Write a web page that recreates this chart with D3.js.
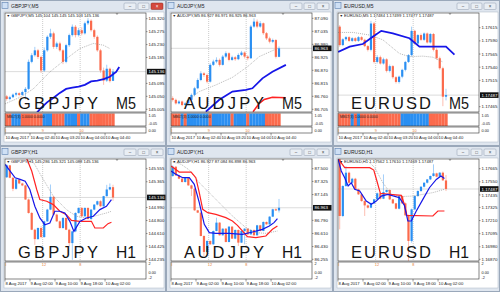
<!DOCTYPE html>
<html>
<head>
<meta charset="utf-8">
<script src="https://cdn.jsdelivr.net/npm/d3@7"></script>
<style>
body { margin: 0; background: #fff; }
svg { display: block; }
text { font-family: "Liberation Sans", Arial, sans-serif; }
</style>
</head>
<body>
<svg id="chart" width="500" height="292"></svg>
<script>
// ---- data: candles are [open, high, low, close] ----
var gbpjpyM5 = [
  [145.050,145.055,145.035,145.041],[145.041,145.052,145.036,145.047],[145.047,145.060,145.044,145.056],
  [145.056,145.066,145.050,145.061],[145.061,145.064,145.050,145.055],[145.055,145.070,145.052,145.065],
  [145.065,145.082,145.040,145.076],[145.076,145.178,145.072,145.170],[145.170,145.200,145.165,145.193],
  [145.193,145.222,145.188,145.210],[145.210,145.215,145.180,145.187],[145.187,145.192,145.132,145.140],
  [145.140,145.220,145.135,145.210],[145.210,145.262,145.205,145.257],[145.257,145.285,145.250,145.269],
  [145.269,145.275,145.215,145.222],[145.222,145.240,145.215,145.234],[145.234,145.240,145.205,145.210],
  [145.210,145.214,145.162,145.170],[145.170,145.233,145.165,145.228],[145.228,145.268,145.222,145.263],
  [145.263,145.300,145.258,145.292],[145.292,145.298,145.255,145.263],[145.263,145.288,145.258,145.280],
  [145.280,145.290,145.262,145.269],[145.269,145.310,145.265,145.304],[145.304,145.322,145.298,145.313],
  [145.313,145.318,145.275,145.280],[145.280,145.285,145.250,145.257],[145.257,145.262,145.205,145.210],
  [145.210,145.215,145.132,145.140],[145.140,145.150,145.090,145.105],[145.105,145.160,145.100,145.146],
  [145.146,145.150,145.098,145.103],[145.104,145.145,145.103,145.136]
];
var audjpyM5 = [
  [86.752,86.760,86.738,86.745],[86.745,86.750,86.725,86.730],[86.730,86.744,86.726,86.738],
  [86.738,86.742,86.718,86.723],[86.723,86.736,86.720,86.730],[86.730,86.750,86.727,86.745],
  [86.745,86.772,86.740,86.766],[86.766,86.800,86.760,86.794],[86.794,86.836,86.790,86.829],
  [86.829,86.866,86.824,86.857],[86.857,86.862,86.842,86.850],[86.850,86.856,86.815,86.822],
  [86.822,86.900,86.818,86.893],[86.893,86.915,86.888,86.907],[86.907,86.925,86.900,86.914],
  [86.914,86.920,86.886,86.893],[86.893,86.935,86.890,86.928],[86.928,86.950,86.922,86.942],
  [86.942,86.946,86.908,86.914],[86.914,86.932,86.910,86.925],[86.925,86.930,86.910,86.917],
  [86.917,86.942,86.913,86.935],[86.935,86.952,86.930,86.945],[86.945,86.950,86.920,86.928],
  [86.928,86.934,86.912,86.921],[86.921,87.062,86.918,87.055],[87.055,87.090,87.050,87.076],
  [87.076,87.085,87.048,87.055],[87.055,87.078,87.050,87.069],[87.069,87.072,87.020,87.027],
  [87.027,87.032,86.998,87.005],[87.005,87.012,86.984,86.991],[86.991,87.004,86.985,86.998],
  [86.998,87.002,86.920,86.927],[86.927,86.971,86.925,86.963]
];
var eurusdM5 = [
  [1.17617,1.17620,1.17579,1.17582],[1.17582,1.17595,1.17580,1.17593],[1.17593,1.17599,1.17590,1.17597],
  [1.17597,1.17599,1.17588,1.17590],[1.17590,1.17597,1.17588,1.17595],[1.17595,1.17597,1.17588,1.17590],
  [1.17590,1.17599,1.17588,1.17597],[1.17597,1.17599,1.17590,1.17592],[1.17592,1.17594,1.17578,1.17580],
  [1.17580,1.17582,1.17570,1.17573],[1.17573,1.17628,1.17570,1.17623],[1.17623,1.17626,1.17547,1.17550],
  [1.17550,1.17563,1.17547,1.17559],[1.17559,1.17562,1.17545,1.17547],[1.17547,1.17558,1.17545,1.17555],
  [1.17555,1.17557,1.17530,1.17533],[1.17533,1.17545,1.17530,1.17542],[1.17542,1.17544,1.17518,1.17521],
  [1.17521,1.17523,1.17509,1.17512],[1.17512,1.17524,1.17509,1.17522],[1.17522,1.17537,1.17519,1.17535],
  [1.17535,1.17552,1.17532,1.17550],[1.17550,1.17565,1.17548,1.17563],[1.17563,1.17617,1.17560,1.17609],
  [1.17609,1.17611,1.17582,1.17585],[1.17585,1.17603,1.17583,1.17601],[1.17601,1.17604,1.17590,1.17592],
  [1.17592,1.17606,1.17590,1.17604],[1.17604,1.17606,1.17585,1.17587],[1.17587,1.17605,1.17585,1.17603],
  [1.17603,1.17605,1.17570,1.17573],[1.17573,1.17576,1.17554,1.17557],[1.17557,1.17560,1.17535,1.17538],
  [1.17538,1.17541,1.17466,1.17484],[1.17484,1.17499,1.17477,1.17487]
];
var gbpjpyH1 = [
  [145.430,145.620,145.420,145.604],[145.604,145.610,145.415,145.423],[145.423,145.430,145.228,145.262],
  [145.262,145.410,145.250,145.399],[145.399,145.405,145.330,145.340],[145.340,145.350,145.300,145.311],
  [145.311,145.320,145.100,145.106],[145.106,145.120,144.900,144.910],[144.910,144.925,144.660,144.666],
  [144.666,144.680,144.446,144.529],[144.529,144.700,144.520,144.691],[144.691,144.720,144.540,144.559],
  [144.559,144.800,144.550,144.788],[144.788,144.970,144.780,144.959],[144.959,145.325,144.950,145.145],
  [145.145,145.160,144.875,144.886],[144.886,144.900,144.780,144.788],[144.788,144.800,144.680,144.691],
  [144.691,144.850,144.680,144.837],[144.837,144.845,144.660,144.666],[144.666,144.680,144.420,144.471],
  [144.471,144.650,144.227,144.642],[144.642,144.920,144.630,144.910],[144.910,144.990,144.900,144.984],
  [144.984,144.995,144.850,144.862],[144.862,144.990,144.850,144.984],[144.984,144.990,144.815,144.822],
  [144.822,144.965,144.810,144.959],[144.959,145.040,144.950,145.032],[145.032,145.090,145.020,145.081],
  [145.081,145.095,145.000,145.008],[145.008,145.160,145.000,145.155],[145.155,145.320,145.150,145.252],
  [145.252,145.340,145.240,145.286],[145.286,145.321,145.088,145.136]
];
var audjpyH1 = [
  [87.399,87.546,87.390,87.527],[87.527,87.535,87.400,87.408],[87.408,87.415,87.355,87.363],
  [87.363,87.372,87.310,87.317],[87.317,87.380,87.310,87.372],[87.372,87.380,87.265,87.271],
  [87.271,87.280,87.125,87.225],[87.225,87.232,86.920,86.928],[86.928,86.935,86.890,86.896],
  [86.896,86.905,86.570,86.575],[86.575,86.585,86.301,86.356],[86.356,86.515,86.350,86.507],
  [86.507,86.515,86.455,86.461],[86.461,86.650,86.455,86.644],[86.644,86.827,86.640,86.759],
  [86.759,86.765,86.580,86.585],[86.585,86.680,86.580,86.676],[86.676,86.685,86.488,86.493],
  [86.493,86.710,86.488,86.704],[86.704,86.712,86.535,86.539],[86.539,86.665,86.532,86.658],
  [86.658,86.665,86.438,86.484],[86.484,86.650,86.478,86.644],[86.644,86.682,86.461,86.676],
  [86.676,86.682,86.590,86.598],[86.598,86.665,86.592,86.658],[86.658,86.665,86.580,86.585],
  [86.585,86.728,86.580,86.722],[86.722,86.730,86.638,86.644],[86.644,86.775,86.640,86.768],
  [86.768,86.775,86.730,86.736],[86.736,86.848,86.730,86.841],[86.841,86.950,86.835,86.942],
  [86.942,86.955,86.920,86.927],[86.927,87.084,86.898,86.963]
];
var eurusdH1 = [
  [1.17747,1.17750,1.17133,1.17250],[1.17250,1.17520,1.17240,1.17513],[1.17513,1.17688,1.17505,1.17630],
  [1.17630,1.17640,1.17535,1.17542],[1.17542,1.17585,1.17535,1.17577],[1.17577,1.17585,1.17478,1.17484],
  [1.17484,1.17490,1.17435,1.17440],[1.17440,1.17448,1.17375,1.17381],[1.17381,1.17390,1.17250,1.17343],
  [1.17343,1.17350,1.17315,1.17323],[1.17323,1.17368,1.17318,1.17361],[1.17361,1.17400,1.17355,1.17396],
  [1.17396,1.17455,1.17390,1.17449],[1.17449,1.17455,1.17395,1.17402],[1.17402,1.17615,1.17398,1.17460],
  [1.17460,1.17482,1.17455,1.17478],[1.17478,1.17484,1.17390,1.17396],[1.17396,1.17400,1.17355,1.17361],
  [1.17361,1.17365,1.17308,1.17314],[1.17314,1.17430,1.17308,1.17425],[1.17425,1.17430,1.17355,1.17361],
  [1.17361,1.17368,1.17250,1.17256],[1.17256,1.17262,1.16841,1.17031],[1.17031,1.17315,1.17016,1.17308],
  [1.17308,1.17430,1.17300,1.17425],[1.17425,1.17475,1.17418,1.17469],[1.17469,1.17510,1.17462,1.17507],
  [1.17507,1.17545,1.17500,1.17542],[1.17542,1.17575,1.17535,1.17571],[1.17571,1.17605,1.17565,1.17601],
  [1.17601,1.17703,1.17595,1.17624],[1.17624,1.17630,1.17590,1.17595],[1.17595,1.17635,1.17590,1.17630],
  [1.17630,1.17640,1.17558,1.17563],[1.17562,1.17610,1.17469,1.17487]
];

// moving averages, [bar index, value]
var gbpjpyM5Blue = [[9,144.985],[11,145.010],[13,145.030],[15,145.045],[17,145.062],[19,145.076],[21,145.080],[23,145.084],[25,145.090],[27,145.102],[29,145.105],[31,145.110],[33,145.118],[35,145.135],[36,145.152]];
var gbpjpyM5Gray = [[-0.5,145.024],[4.3,145.047],[8.5,145.076],[13.8,145.135],[19.1,145.181],[23.4,145.216],[27.7,145.234],[30.9,145.228],[33,145.216]];
var audjpyM5Blue = [[10.6,86.695],[14.9,86.745],[19.1,86.780],[23.4,86.787],[25.5,86.794],[28.7,86.836],[31.9,86.864],[36.2,86.893]];
var audjpyM5Red = [[25.7,86.695],[27.7,86.730],[29.3,86.747],[31.9,86.756],[36.2,86.754]];
var audjpyM5Gray = [[4.3,86.738],[8.5,86.780],[13.8,86.808],[19.1,86.840],[24,86.886],[27.7,86.928],[31.9,86.953],[33.5,86.963]];
var eurusdM5Blue = [[-0.5,1.17569],[3.2,1.17579],[7.4,1.17584],[10.6,1.17598],[13.3,1.17609],[17,1.17604],[22.3,1.17595],[25.5,1.17579],[29.8,1.17579],[34,1.17579],[36.7,1.17564]];
var eurusdM5Gray = [[-0.5,1.17606],[4.3,1.17606],[9.6,1.17601],[13.8,1.17592],[19.1,1.17566],[22.3,1.17560],[26.6,1.17561],[29.8,1.17559],[33,1.17550]];
var gbpjpyH1Blue = [[-0.5,145.618],[1.1,145.521],[2.7,145.423],[4.3,145.399],[5.9,145.374],[7.4,145.252],[9,145.008],[10.6,144.837],[12.2,144.739],[13.8,144.764],[15.4,144.935],[17,144.935],[18.6,144.910],[20.2,144.788],[21.5,144.642],[23.4,144.788],[25.5,144.837],[27.7,144.862],[29.8,144.959],[31.9,145.008],[33.5,145.106]];
var gbpjpyH1Red = [[6.4,145.702],[8,145.521],[9.6,145.252],[10.6,145.106],[12.8,145.081],[14.9,145.032],[17,144.935],[19.1,144.886],[20.7,144.803],[23.4,144.788],[27.1,144.788],[28.2,144.691],[30.9,144.691],[32.4,144.754],[33.5,144.774]];
var gbpjpyH1Gray = [[8,145.692],[11.7,145.399],[14.9,145.155],[19.1,144.959],[22.3,144.862],[25.5,144.837],[28.7,144.871],[31.9,144.910],[33.5,144.935]];
var audjpyH1Blue = [[-0.5,87.468],[1.1,87.422],[3.2,87.376],[5.3,87.376],[6.9,87.285],[8.5,87.033],[10.1,86.736],[11.7,86.621],[13.8,86.612],[18.1,86.612],[22.3,86.598],[25.5,86.630],[28.7,86.667],[30.9,86.713],[32.4,86.759],[33.5,86.813]];
var audjpyH1Red = [[-0.5,87.537],[2.1,87.454],[5.9,87.454],[7.4,87.376],[8.5,87.170],[9.6,86.942],[11.2,86.896],[13.8,86.873],[17,86.827],[19.1,86.781],[20.7,86.722],[22.6,86.630],[23.9,86.566],[26.6,86.553],[29.8,86.575],[31.9,86.667],[33.5,86.713]];
var audjpyH1Gray = [[0,87.592],[2.7,87.560],[5.3,87.482],[8.5,87.308],[13.8,87.079],[19.1,86.850],[23.4,86.690],[26.6,86.621],[29.8,86.612],[33.5,86.644]];
var eurusdH1Blue = [[-0.5,1.17747],[0.5,1.17645],[1.6,1.17586],[2.7,1.17513],[3.7,1.17542],[4.8,1.17484],[6.4,1.17469],[8.5,1.17381],[10.1,1.17352],[11.7,1.17381],[13.3,1.17425],[15.4,1.17440],[19.1,1.17411],[20.7,1.17343],[21.8,1.17206],[22.9,1.17206],[24.5,1.17294],[26.6,1.17396],[28.7,1.17498],[30.9,1.17571],[32.4,1.17601],[33.5,1.17580]];
var eurusdH1Red = [[-0.5,1.17753],[1.6,1.17674],[9.6,1.17674],[10.9,1.17653],[11.9,1.17557],[13,1.17449],[16,1.17440],[19.7,1.17431],[20.7,1.17352],[21.5,1.17256],[29.8,1.17250],[31.4,1.17294],[33.5,1.17294]];
var eurusdH1Gray = [[8.5,1.17747],[11.2,1.17674],[13.8,1.17542],[16.5,1.17440],[19.1,1.17420],[23.4,1.17425],[26.6,1.17440],[29.8,1.17455],[33.5,1.17484]];

// sub-window trend blocks (1 = blue, -1 = red)
var gbpjpyTrend = [-1,-1,1,1,1,-1,-1,-1,-1,-1,-1,-1,1,1,1,-1,-1,-1,-1,1,1,1,1,-1,1,1,1,-1,-1,-1,-1,-1,-1,-1,-1];
var audjpyTrend = [-1,-1,-1,1,-1,1,1,1,1,1,1,1,-1,1,1,1,1,1,1,-1,1,1,1,1,-1,1,1,1,1,1,-1,-1,-1,-1,-1];
var eurusdTrend = [-1,-1,-1,-1,1,-1,1,-1,-1,-1,-1,-1,-1,-1,-1,-1,-1,-1,-1,-1,1,1,1,1,1,1,1,1,1,-1,-1,-1,-1,-1,-1];

// price axis labels
var gbpjpyM5Ticks = [145.320,145.275,145.230,145.185,145.095,145.050,145.005];
var audjpyM5Ticks = [87.090,87.035,86.980,86.925,86.870,86.815,86.760,86.705];
var eurusdM5Ticks = [1.17615,1.17590,1.17565,1.17540,1.17515,1.17465];
var gbpjpyH1Ticks = [145.555,145.365,144.990,144.800,144.610,144.425,144.235];
var audjpyH1Ticks = [87.500,87.325,87.145,86.790,86.610,86.430,86.255];
var eurusdH1Ticks = [1.17665,1.17550,1.17435,1.17325,1.17210,1.17095,1.16980,1.16870];

// time axis
var m5Times = ["10 Aug 2017","10 Aug 02:40","10 Aug 03:20","10 Aug 04:00","10 Aug 04:40"];
var h1Times = ["8 Aug 2017","9 Aug 02:00","9 Aug 10:00","9 Aug 18:00","10 Aug 02:00"];
var timeBars = [0, 8, 16, 24, 32];
var sepBars = [11.5, 23.5];
var m5SepLabels = ["9", "10"];
var h1SepLabels = ["12", "8"];

var panels = [
  {sym: "GBPJPY", tf: "M5", x0: 0,   y0: 0,   w: 166, candles: gbpjpyM5, ticks: gbpjpyM5Ticks, tickPx: [109.3, 18.7], digits: 3, blue: gbpjpyM5Blue, red: null, gray: gbpjpyM5Gray, trend: gbpjpyTrend, active: true},
  {sym: "AUDJPY", tf: "M5", x0: 166, y0: 0,   w: 167, candles: audjpyM5, ticks: audjpyM5Ticks, tickPx: [109.3, 18.3], digits: 3, blue: audjpyM5Blue, red: audjpyM5Red, gray: audjpyM5Gray, trend: audjpyTrend},
  {sym: "EURUSD", tf: "M5", x0: 333, y0: 0,   w: 167, candles: eurusdM5, ticks: eurusdM5Ticks, tickPx: [106.7, 27.7], digits: 5, blue: eurusdM5Blue, red: null, gray: eurusdM5Gray, trend: eurusdTrend},
  {sym: "GBPJPY", tf: "H1", x0: 0,   y0: 146, w: 166, candles: gbpjpyH1, ticks: gbpjpyH1Ticks, tickPx: [113.3, 22.7], digits: 3, blue: gbpjpyH1Blue, red: gbpjpyH1Red, gray: gbpjpyH1Gray},
  {sym: "AUDJPY", tf: "H1", x0: 166, y0: 146, w: 167, candles: audjpyH1, ticks: audjpyH1Ticks, tickPx: [113.3, 22.7], digits: 3, blue: audjpyH1Blue, red: audjpyH1Red, gray: audjpyH1Gray},
  {sym: "EURUSD", tf: "H1", x0: 333, y0: 146, w: 167, candles: eurusdH1, ticks: eurusdH1Ticks, tickPx: [113.3, 22.7], digits: 5, blue: eurusdH1Blue, red: eurusdH1Red, gray: eurusdH1Gray}
];

var bull = "#2a8ff2", bear = "#fb6a4c";
var svg = d3.select("#chart");

function drawPanel(p, k) {
    var g = svg.append("g").attr("transform", "translate(" + p.x0 + "," + p.y0 + ")");
    var m5 = p.tf == "M5";
    var L = 5, R = 146, T = 13, B = m5 ? 112 : 115;
    var fmt = d3.format("." + p.digits + "f");
    var x = d3.scaleLinear().domain([0, p.candles.length - 1]).range([6.7, 113]);
    var y = d3.scaleLinear().domain([p.ticks[p.ticks.length - 1], p.ticks[0]]).range(p.tickPx);
    var step = x(1) - x(0);
    var last = p.candles[p.candles.length - 1];

    // window frame
    g.append("rect").attr("x", 0.5).attr("y", 0.5).attr("width", p.w - 1).attr("height", 145)
        .attr("fill", "#dfe6ef").attr("stroke", "#9aa8ba");
    g.append("rect").attr("x", 4).attr("y", 12).attr("width", p.w - 6).attr("height", 130)
        .attr("fill", "#fff").attr("stroke", "#aab6c4").attr("stroke-width", 0.5);

    // title bar
    g.append("rect").attr("x", 2).attr("y", 2.5).attr("width", 6).attr("height", 6)
        .attr("fill", "#cfe0f5").attr("stroke", "#5b7fb0").attr("stroke-width", 0.6);
    g.append("text").attr("x", 11).attr("y", 7.8).style("font-size", "5px").style("fill", "#222")
        .text(p.sym + "," + p.tf);
    var btns = [[124, 12, "\u2013"], [138, 11, "\u25a1"], [151, 12, "\u00d7"]];
    btns.forEach(function (b, j) {
        var red = p.active && j == 2;
        g.append("rect").attr("x", b[0]).attr("y", 3).attr("width", b[1]).attr("height", 6.5).attr("rx", 1)
            .attr("fill", red ? "#d4493d" : "#e9eef4").attr("stroke", red ? "#8f2b22" : "#8e9bac").attr("stroke-width", 0.5);
        g.append("text").attr("x", b[0] + b[1] / 2).attr("y", 8).attr("text-anchor", "middle")
            .style("font-size", "4.5px").style("fill", red ? "#fff" : "#444").text(b[2]);
    });

    // clip for the main plot
    svg.append("clipPath").attr("id", "clip" + k).append("rect")
        .attr("x", L).attr("y", T).attr("width", R - L).attr("height", B - T);
    var plot = g.append("g").attr("clip-path", "url(#clip" + k + ")");

    // hour separators
    plot.selectAll(".sep").data(sepBars).enter().append("line")
        .attr("x1", function (d) { return x(d); }).attr("x2", function (d) { return x(d); })
        .attr("y1", T).attr("y2", B)
        .attr("stroke", "#999").attr("stroke-width", 0.5).attr("stroke-dasharray", "1,1");

    // bid line
    plot.append("line").attr("x1", L).attr("x2", R).attr("y1", y(last[3])).attr("y2", y(last[3]))
        .attr("stroke", "#c4c4c4").attr("stroke-width", 0.6);

    // big symbol label
    g.append("text").attr("x", 18).attr("y", m5 ? 109 : 112).attr("textLength", 80).attr("lengthAdjust", "spacing")
        .style("font-size", "16.5px").style("fill", "#151515").text(p.sym.split("").join(" "));
    g.append("text").attr("x", 116).attr("y", m5 ? 109 : 112).attr("textLength", 20).attr("lengthAdjust", "spacingAndGlyphs")
        .style("font-size", "16.5px").style("fill", "#151515").text(p.tf);

    // candles
    var c = plot.selectAll(".candle").data(p.candles).enter().append("g");
    c.append("line")
        .attr("x1", function (d, i) { return x(i); }).attr("x2", function (d, i) { return x(i); })
        .attr("y1", function (d) { return y(d[1]); }).attr("y2", function (d) { return y(d[2]); })
        .attr("stroke", function (d) { return d[3] >= d[0] ? bull : bear; })
        .attr("stroke-width", 0.8).attr("stroke-opacity", 0.55);
    c.append("rect")
        .attr("x", function (d, i) { return x(i) - 1.1; }).attr("width", 2.2)
        .attr("y", function (d) { return y(Math.max(d[0], d[3])); })
        .attr("height", function (d) { return Math.max(0.8, Math.abs(y(d[0]) - y(d[3]))); })
        .attr("fill", function (d) { return d[3] >= d[0] ? bull : bear; });

    // moving averages
    var line = d3.line().x(function (d) { return x(d[0]); }).y(function (d) { return y(d[1]); });
    plot.append("path").datum(p.gray).attr("d", line).attr("fill", "none")
        .attr("stroke", "#888").attr("stroke-width", 0.6).attr("stroke-dasharray", "1,1");
    if (p.red) plot.append("path").datum(p.red).attr("d", line).attr("fill", "none")
        .attr("stroke", "#ff2323").attr("stroke-width", m5 ? 1.6 : 1.2);
    plot.append("path").datum(p.blue).attr("d", line).attr("fill", "none")
        .attr("stroke", "#1616e8").attr("stroke-width", m5 ? 1.8 : 1.2);

    // info line and shift marker
    g.append("text").attr("x", 6.5).attr("y", 17).style("font-size", "3.6px").style("fill", "#222").text("\u25bc");
    g.append("text").attr("x", 11).attr("y", 17).style("font-size", "4.2px").style("fill", "#222")
        .text(p.sym + "," + p.tf + " " + last.map(fmt).join(" "));
    g.append("path").attr("d", "M115.5,13.3 L118.5,13.3 L117,15 Z").attr("fill", "#999");

    // frames
    g.append("rect").attr("x", L).attr("y", T).attr("width", R - L).attr("height", B - T)
        .attr("fill", "none").attr("stroke", "#333").attr("stroke-width", 0.6);

    // price axis
    var ax = g.append("g");
    ax.selectAll(".tk").data(p.ticks).enter().append("line")
        .attr("x1", R).attr("x2", R + 1.5).attr("y1", function (d) { return y(d); }).attr("y2", function (d) { return y(d); })
        .attr("stroke", "#333").attr("stroke-width", 0.5);
    ax.selectAll(".tl").data(p.ticks).enter().append("text")
        .attr("x", R + 2.5).attr("y", function (d) { return y(d) + 1.6; })
        .style("font-size", "4.4px").style("fill", "#222").text(fmt);
    g.append("rect").attr("x", R + 1).attr("y", y(last[3]) - 2.8).attr("width", 18.5).attr("height", 5.6).attr("fill", "#111");
    g.append("text").attr("x", R + 2.5).attr("y", y(last[3]) + 1.6)
        .style("font-size", "4.4px").style("fill", "#fff").text(fmt(last[3]));

    // sub windows
    var subTop = B + 1, subBot = 133;
    if (m5) {
        var s1b = 126;
        g.selectAll(".blk").data(p.trend).enter().append("rect")
            .attr("x", function (d, i) { return x(i) - step / 2; }).attr("width", step + 0.1)
            .attr("y", subTop + 0.5).attr("height", s1b - subTop - 0.5)
            .attr("fill", function (d) { return d > 0 ? bull : bear; });
        g.append("text").attr("x", 7).attr("y", 117.8).style("font-size", "3.6px").style("fill", "#222")
            .text("MBLT(3) 1.0000 0.0000");
        g.append("rect").attr("x", L).attr("y", subTop).attr("width", R - L).attr("height", s1b - subTop)
            .attr("fill", "none").attr("stroke", "#333").attr("stroke-width", 0.6);
        g.append("rect").attr("x", L).attr("y", s1b + 1).attr("width", R - L).attr("height", subBot - s1b - 1)
            .attr("fill", "none").attr("stroke", "#333").attr("stroke-width", 0.6);
        [["1.05", 116.5], ["-0.05", 124.5], ["0.00", 131.5]].forEach(function (t) {
            g.append("text").attr("x", R + 2.5).attr("y", t[1]).style("font-size", "3.8px").style("fill", "#222").text(t[0]);
        });
    } else {
        g.append("rect").attr("x", L).attr("y", subTop).attr("width", R - L).attr("height", subBot - subTop)
            .attr("fill", "none").attr("stroke", "#333").attr("stroke-width", 0.6);
        [["2", 119], ["0.00", 128], ["-2", 132.5]].forEach(function (t) {
            g.append("text").attr("x", R + 2.5).attr("y", t[1]).style("font-size", "3.8px").style("fill", "#222").text(t[0]);
        });
    }
    var sepY = m5 ? 131.5 : 119.5;
    var sepLabels = m5 ? m5SepLabels : h1SepLabels;
    g.append("text").attr("x", L + 0.3).attr("y", sepY).style("font-size", "3.8px").style("fill", "#e57b30").text("I");
    g.selectAll(".sl").data(sepLabels).enter().append("text")
        .attr("x", function (d, i) { return x(sepBars[i]) - 0.8; }).attr("y", sepY)
        .style("font-size", "3.8px").style("fill", "#e57b30").text(function (d) { return d; });

    // time axis
    var times = m5 ? m5Times : h1Times;
    g.selectAll(".tt").data(times).enter().append("line")
        .attr("x1", function (d, i) { return x(timeBars[i]) - 1.7; }).attr("x2", function (d, i) { return x(timeBars[i]) - 1.7; })
        .attr("y1", subBot).attr("y2", subBot + 2.5).attr("stroke", "#333").attr("stroke-width", 0.5);
    g.selectAll(".tx").data(times).enter().append("text")
        .attr("x", function (d, i) { return x(timeBars[i]) - 1.2; }).attr("y", 139.3)
        .style("font-size", "4.2px").style("fill", "#222").text(function (d) { return d; });
}

panels.forEach(drawPanel);
</script>
</body>
</html>
